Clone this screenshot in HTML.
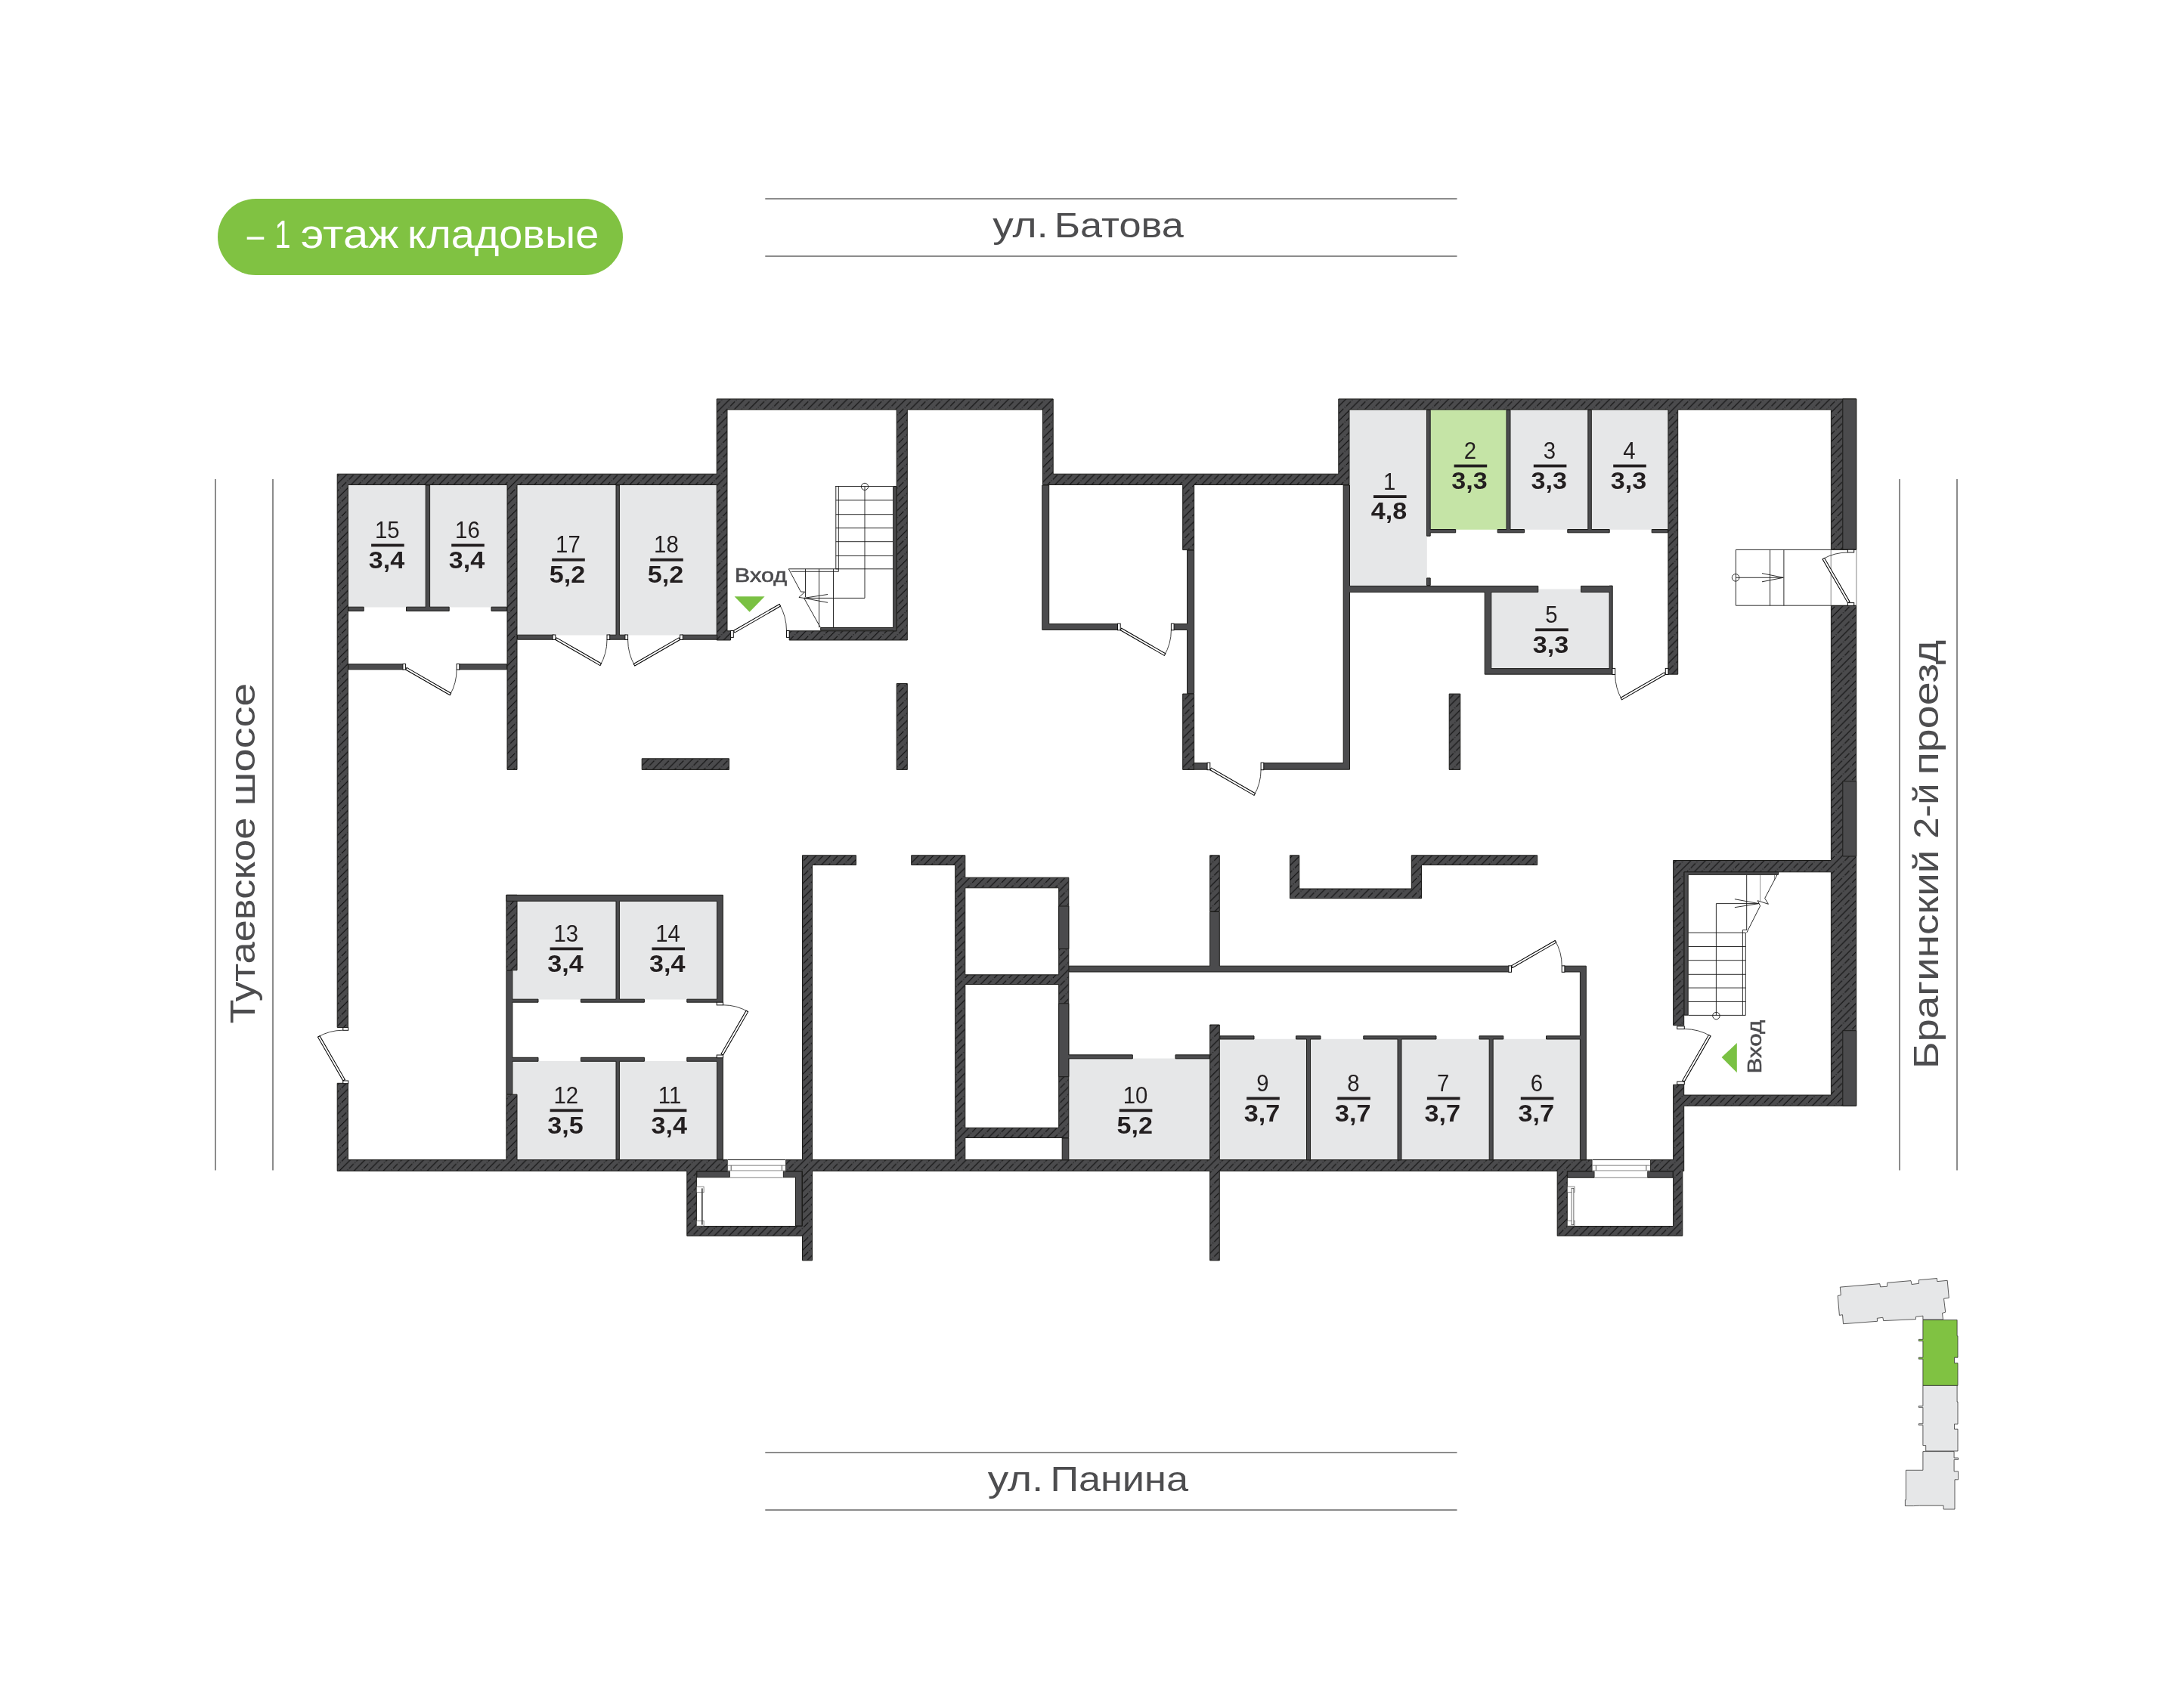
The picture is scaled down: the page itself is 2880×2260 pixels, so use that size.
<!DOCTYPE html>
<html lang="ru"><head><meta charset="utf-8"><title>– 1 этаж кладовые</title>
<style>html,body{margin:0;padding:0;background:#fff}svg{display:block;will-change:transform}</style></head>
<body>
<svg width="2880" height="2260" viewBox="0 0 2880 2260">
<defs>
<pattern id="h" width="19.4" height="19.4" patternUnits="userSpaceOnUse">
<rect width="19.4" height="19.4" fill="#4b4b4d"/>
<path d="M-2 21.4 L21.4 -2 M-2 2 L2 -2 M17.4 21.4 L21.4 17.4" stroke="#0c0c0c" stroke-width="1.05" fill="none"/>
<path d="M-2 11.7 L11.7 -2 M7.699999999999999 21.4 L21.4 7.699999999999999" stroke="#0c0c0c" stroke-width="1.05" stroke-dasharray="6 2 1 2" fill="none"/>
</pattern>
</defs>
<rect x="0.0" y="0.0" width="2880.0" height="2260.0" fill="#fff" />
<rect x="288" y="263" width="536" height="101" rx="50.5" fill="#80c242"/>
<g transform="translate(0,328) rotate(0)" font-family="'Liberation Sans',sans-serif" font-size="51" fill="#fff">
<text x="326.8" y="0" textLength="22.5" lengthAdjust="spacingAndGlyphs">–</text>
<text x="363.5" y="0" textLength="21.0" lengthAdjust="spacingAndGlyphs">1</text>
<text x="397.8" y="0" textLength="129.6" lengthAdjust="spacingAndGlyphs">этаж</text>
<text x="539.1" y="0" textLength="253.1" lengthAdjust="spacingAndGlyphs">кладовые</text>
</g>
<rect x="1012.3" y="262.0" width="915.2" height="2.0" fill="#8c8c8c" />
<rect x="1012.3" y="338.0" width="915.2" height="2.0" fill="#8c8c8c" />
<rect x="1012.3" y="1921.0" width="915.2" height="2.0" fill="#8c8c8c" />
<rect x="1012.3" y="1997.0" width="915.2" height="2.0" fill="#8c8c8c" />
<rect x="284.0" y="634.0" width="2.0" height="914.5" fill="#8c8c8c" />
<rect x="360.0" y="634.0" width="2.0" height="914.5" fill="#8c8c8c" />
<rect x="2512.0" y="634.0" width="2.0" height="914.5" fill="#8c8c8c" />
<rect x="2588.0" y="634.0" width="2.0" height="914.5" fill="#8c8c8c" />
<g transform="translate(0,314.2) rotate(0)" font-family="'Liberation Sans',sans-serif" font-size="47" fill="#4d4d4f">
<text x="1313.2" y="0" textLength="73.7" lengthAdjust="spacingAndGlyphs">ул.</text>
<text x="1394.8" y="0" textLength="171.0" lengthAdjust="spacingAndGlyphs">Батова</text>
</g>
<g transform="translate(0,1973.2) rotate(0)" font-family="'Liberation Sans',sans-serif" font-size="47" fill="#4d4d4f">
<text x="1306.7" y="0" textLength="73.7" lengthAdjust="spacingAndGlyphs">ул.</text>
<text x="1389.4" y="0" textLength="182.6" lengthAdjust="spacingAndGlyphs">Панина</text>
</g>
<g transform="translate(336.5,1352.4) rotate(-90)" font-family="'Liberation Sans',sans-serif" font-size="47" fill="#4d4d4f">
<text x="-2.0" y="0" textLength="272.8" lengthAdjust="spacingAndGlyphs">Тутаевское</text>
<text x="286.0" y="0" textLength="162.8" lengthAdjust="spacingAndGlyphs">шоссе</text>
</g>
<g transform="translate(2564.3,1408.8) rotate(-90)" font-family="'Liberation Sans',sans-serif" font-size="47" fill="#4d4d4f">
<text x="-5.5" y="0" textLength="289.5" lengthAdjust="spacingAndGlyphs">Брагинский</text>
<text x="299.0" y="0" textLength="73.4" lengthAdjust="spacingAndGlyphs">2-й</text>
<text x="383.5" y="0" textLength="178.5" lengthAdjust="spacingAndGlyphs">проезд</text>
</g>
<rect x="460.7" y="641.7" width="102.5" height="161.8" fill="#e6e7e8" />
<rect x="569.0" y="641.7" width="101.7" height="161.8" fill="#e6e7e8" />
<rect x="684.3" y="641.7" width="130.5" height="198.8" fill="#e6e7e8" />
<rect x="819.6" y="641.7" width="128.4" height="198.8" fill="#e6e7e8" />
<rect x="1785.3" y="542.3" width="102.5" height="232.6" fill="#e6e7e8" />
<rect x="1892.4" y="542.3" width="100.4" height="158.5" fill="#c5e4a6" />
<rect x="1998.3" y="542.3" width="102.2" height="158.5" fill="#e6e7e8" />
<rect x="2105.6" y="542.3" width="101.1" height="158.5" fill="#e6e7e8" />
<rect x="1972.6" y="783.0" width="156.2" height="101.4" fill="#e6e7e8" />
<rect x="2035.0" y="779.5" width="56.3" height="3.5" fill="#e6e7e8" />
<rect x="678.1" y="1192.6" width="136.7" height="129.9" fill="#e6e7e8" />
<rect x="819.6" y="1192.6" width="128.6" height="129.9" fill="#e6e7e8" />
<rect x="678.1" y="1404.0" width="136.7" height="130.4" fill="#e6e7e8" />
<rect x="819.6" y="1404.0" width="128.6" height="130.4" fill="#e6e7e8" />
<rect x="1414.0" y="1400.5" width="186.4" height="134.5" fill="#e6e7e8" />
<rect x="1613.6" y="1374.8" width="114.7" height="160.2" fill="#e6e7e8" />
<rect x="1733.8" y="1374.8" width="114.9" height="160.2" fill="#e6e7e8" />
<rect x="1854.2" y="1374.8" width="115.8" height="160.2" fill="#e6e7e8" />
<rect x="1975.5" y="1374.8" width="114.7" height="160.2" fill="#e6e7e8" />
<g fill="none" stroke="#151515" stroke-width="0.9">
<circle cx="1144" cy="643.9" r="4.6"/>
<path d="M1105.1 643.5H1181.4 M1105.8 643.5V752.8 M1109.3 643.5V756.3"/>
<path d="M1105.8 661.9H1181.4"/>
<path d="M1105.8 680.7H1181.4"/>
<path d="M1105.8 698.7H1181.4"/>
<path d="M1105.8 716.7H1181.4"/>
<path d="M1105.8 735.5H1181.4"/>
<path d="M1105.8 752.8H1181.4"/>
<path d="M1144 643.9V791.4H1063.6 M1095 786.5L1063.6 791.4L1095 797.3"/>
<path d="M1043.3 752.8H1109.3 M1046.8 756.3H1109.3 M1065.5 752.8V790 M1083.6 752.8V830.3 M1102.5 752.8V830.3"/>
<path d="M1043.3 752.8L1059.4 783L1064.8 783.2L1056.9 790.4L1063.6 791.4L1085.4 830.3"/>
<path d="M2296.4 727.4H2455.9 M2296.4 801.2H2455.9 M2296.4 727.4V801.2 M2341.6 727.4V801.2 M2359.9 727.4V801.2"/>
<path d="M2422.2 727.4V801.2 M2455.9 727.4V801.2" stroke="#777"/>
<circle cx="2296.1" cy="764.3" r="4.8"/>
<path d="M2296.4 764.3H2359.2 M2331 758.6L2359.2 764.3L2331 769.8"/>
<path d="M2233.4 1234.1H2309.3"/>
<path d="M2233.4 1252.5H2309.3"/>
<path d="M2233.4 1270.7H2309.3"/>
<path d="M2233.4 1289.3H2309.3"/>
<path d="M2233.4 1307.1H2309.3"/>
<path d="M2233.4 1325.5H2309.3"/>
<path d="M2233.4 1343.4H2309.3"/>
<path d="M2305.4 1230.5V1343.4 M2309.3 1234.1V1343.4 M2305.4 1230.5H2310.7"/>
<circle cx="2270.4" cy="1344.1" r="4.7"/>
<path d="M2270.4 1343.4V1195.6H2326.6 M2294.9 1189.7L2326.6 1195.6L2294.9 1200.7"/>
<path d="M2310.7 1157.6V1231"/>
<path d="M2328.6 1157.6V1192 M2347.5 1157.6V1164" stroke="#888"/>
<path d="M2352.8 1154.2L2334.7 1188.6L2339.4 1196.3L2325.2 1191.7L2328.6 1198.7L2310.7 1234.1"/>
</g>
<path d="M948.2 627.2 L446.2 627.2 L446.2 1359.5 L460.4 1359.5 L460.4 641.5 L671.0 641.5 L671.0 1018.4 L684.0 1018.4 L684.0 641.5 L948.2 641.5 L948.2 847.0 L966.5 847.0 L966.5 834.8 L962.0 834.8 L962.0 542.0 L1186.2 542.0 L1186.2 834.8 L1044.2 834.8 L1044.2 847.0 L1200.3 847.0 L1200.3 542.0 L1379.5 542.0 L1379.5 641.5 L1564.7 641.5 L1564.7 727.6 L1579.7 727.6 L1579.7 641.5 L1785.0 641.5 L1785.0 542.0 L2206.9 542.0 L2206.9 892.2 L2219.7 892.2 L2219.7 542.0 L2422.4 542.0 L2422.4 727.1 L2455.7 727.1 L2455.7 527.9 L1770.8 527.9 L1770.8 627.2 L1393.2 627.2 L1393.2 527.9 L948.2 527.9Z M1061.5 1534.7 L1039.5 1534.7 L1039.5 1549.5 L1061.5 1549.5 L1061.5 1622.5 L921.4 1622.5 L921.4 1549.5 L962.5 1549.5 L962.5 1534.7 L684.0 1534.7 L684.0 1448.2 L669.9 1448.2 L669.9 1534.7 L460.4 1534.7 L460.4 1433.3 L446.2 1433.3 L446.2 1549.5 L908.8 1549.5 L908.8 1635.3 L1061.5 1635.3 L1061.5 1667.8 L1074.5 1667.8 L1074.5 1549.5 L1600.7 1549.5 L1600.7 1667.8 L1613.3 1667.8 L1613.3 1549.5 L2060.2 1549.5 L2060.2 1635.2 L2225.8 1635.2 L2225.8 1549.5 L2227.7 1549.5 L2227.7 1463.2 L2455.7 1463.2 L2455.7 801.5 L2422.4 801.5 L2422.4 1138.5 L2213.6 1138.5 L2213.6 1356.7 L2227.7 1356.7 L2227.7 1153.8 L2422.4 1153.8 L2422.4 1449.0 L2227.7 1449.0 L2227.7 1435.3 L2213.6 1435.3 L2213.6 1534.7 L2183.2 1534.7 L2183.2 1549.5 L2213.6 1549.5 L2213.6 1622.5 L2073.3 1622.5 L2073.3 1549.5 L2106.3 1549.5 L2106.3 1534.7 L1613.3 1534.7 L1613.3 1356.0 L1600.7 1356.0 L1600.7 1534.7 L1276.8 1534.7 L1276.8 1505.5 L1413.8 1505.5 L1413.8 1161.2 L1276.8 1161.2 L1276.8 1131.8 L1205.7 1131.8 L1205.7 1144.5 L1263.7 1144.5 L1263.7 1534.7 L1074.5 1534.7 L1074.5 1144.5 L1132.5 1144.5 L1132.5 1131.8 L1061.5 1131.8Z M1276.8 1174.8 L1400.7 1174.8 L1400.7 1289.8 L1276.8 1289.8Z M1276.8 1492.3 L1276.8 1302.5 L1400.7 1302.5 L1400.7 1492.3Z M1880.5 1188.7 L1880.5 1144.5 L2033.7 1144.5 L2033.7 1131.8 L1867.3 1131.8 L1867.3 1176.0 L1718.8 1176.0 L1718.8 1131.8 L1706.5 1131.8 L1706.5 1188.7Z M1917.2 1018.4 L1931.8 1018.4 L1931.8 918.1 L1917.2 918.1Z M1600.7 1206.0 L1613.3 1206.0 L1613.3 1131.8 L1600.7 1131.8Z M1564.7 1018.4 L1579.7 1018.4 L1579.7 918.1 L1564.7 918.1Z M1186.2 904.5 L1186.2 1018.4 L1200.3 1018.4 L1200.3 904.5Z M849.2 1018.4 L964.5 1018.4 L964.5 1003.8 L849.2 1003.8Z M669.9 1283.8 L684.0 1283.8 L684.0 1184.3 L669.9 1184.3Z" fill="url(#h)" fill-rule="evenodd" stroke="#1c1c1a" stroke-width="1"/>
<path d="M2455.7 1133.0 L2455.7 1033.7 L2437.8 1033.7 L2437.8 1133.0Z M2437.8 1463.2 L2455.7 1463.2 L2455.7 1363.7 L2437.8 1363.7Z M2437.8 727.1 L2455.7 727.1 L2455.7 527.9 L2437.8 527.9Z M2228.2 1343.2 L2233.2 1343.2 L2233.2 1157.3 L2352.6 1157.3 L2352.6 1153.8 L2228.2 1153.8Z M2213.1 1558.2 L2213.1 1550.0 L2179.4 1550.0 L2179.4 1558.2Z M2206.4 704.8 L2206.4 700.5 L2185.2 700.5 L2185.2 704.8Z M1785.5 1018.2 L1785.5 783.5 L1964.2 783.5 L1964.2 892.2 L2133.2 892.2 L2133.2 775.1 L2129.1 775.1 L2129.1 775.4 L2091.6 775.4 L2091.6 783.5 L2129.1 783.5 L2129.1 884.6 L1972.8 884.6 L1972.8 783.5 L2034.8 783.5 L2034.8 775.4 L1785.5 775.4 L1785.5 642.0 L1777.2 642.0 L1777.2 1009.6 L1669.8 1009.6 L1669.8 1018.2Z M2100.8 700.5 L2073.8 700.5 L2073.8 704.8 L2129.2 704.8 L2129.2 700.5 L2105.3 700.5 L2105.3 542.5 L2100.8 542.5Z M2109.3 1558.2 L2109.3 1550.0 L2073.6 1550.0 L2073.6 1558.2Z M2045.5 1375.0 L2090.4 1375.0 L2090.4 1534.8 L2098.3 1534.8 L2098.3 1278.2 L2068.3 1278.2 L2068.3 1286.0 L2090.4 1286.0 L2090.4 1370.8 L2045.5 1370.8Z M1993.0 700.5 L1981.2 700.5 L1981.2 704.8 L2016.5 704.8 L2016.5 700.5 L1998.0 700.5 L1998.0 542.5 L1993.0 542.5Z M1997.3 1286.0 L1997.3 1278.2 L1613.3 1278.2 L1613.3 1206.5 L1600.7 1206.5 L1600.7 1278.2 L1414.2 1278.2 L1414.2 1286.0Z M1975.2 1375.0 L1988.8 1375.0 L1988.8 1370.8 L1957.0 1370.8 L1957.0 1375.0 L1970.2 1375.0 L1970.2 1534.8 L1975.2 1534.8Z M1892.2 709.2 L1892.2 704.8 L1925.7 704.8 L1925.7 700.5 L1892.2 700.5 L1892.2 542.5 L1887.5 542.5 L1887.5 709.2Z M1803.8 1370.8 L1803.8 1375.0 L1849.0 1375.0 L1849.0 1534.8 L1854.0 1534.8 L1854.0 1375.0 L1900.0 1375.0 L1900.0 1370.8Z M1887.5 774.6 L1892.2 774.6 L1892.2 764.9 L1887.5 764.9Z M1714.5 1370.8 L1714.5 1375.0 L1728.5 1375.0 L1728.5 1534.8 L1733.5 1534.8 L1733.5 1375.0 L1747.0 1375.0 L1747.0 1370.8Z M1613.8 1375.0 L1659.0 1375.0 L1659.0 1370.8 L1613.8 1370.8Z M1600.2 1400.8 L1600.2 1395.8 L1555.0 1395.8 L1555.0 1400.8Z M1598.3 1018.2 L1598.3 1009.6 L1579.3 1009.6 L1579.3 1018.2Z M1570.5 825.6 L1551.0 825.6 L1551.0 833.4 L1570.5 833.4 L1570.5 917.6 L1579.7 917.6 L1579.7 728.1 L1570.5 728.1Z M1498.3 1400.8 L1498.3 1395.8 L1413.8 1395.8 L1413.8 1327.8 L1400.7 1327.8 L1400.7 1424.7 L1413.8 1424.7 L1413.8 1400.8Z M1378.8 833.4 L1478.8 833.4 L1478.8 825.6 L1387.7 825.6 L1387.7 642.0 L1378.8 642.0Z M1405.2 1534.8 L1413.8 1534.8 L1413.8 1506.0 L1405.2 1506.0Z M1400.7 1255.5 L1413.8 1255.5 L1413.8 1199.0 L1400.7 1199.0Z M1185.8 643.5 L1181.7 643.5 L1181.7 830.5 L1085.7 830.5 L1085.7 834.2 L1181.7 834.2 L1181.7 834.8 L1185.8 834.8Z M1036.0 1557.8 L1052.5 1557.8 L1052.5 1622.0 L1061.0 1622.0 L1061.0 1550.0 L1036.0 1550.0Z M921.9 1557.8 L965.6 1557.8 L965.6 1550.0 L921.9 1550.0Z M956.4 1397.5 L948.5 1397.5 L948.5 1399.3 L908.8 1399.3 L908.8 1404.3 L948.5 1404.3 L948.5 1534.2 L956.4 1534.2Z M815.0 1322.2 L768.4 1322.2 L768.4 1326.2 L852.4 1326.2 L852.4 1322.2 L819.4 1322.2 L819.4 1192.3 L948.5 1192.3 L948.5 1322.2 L908.8 1322.2 L908.8 1326.2 L948.5 1326.2 L948.5 1327.2 L956.4 1327.2 L956.4 1184.3 L669.9 1184.3 L669.9 1192.3 L815.0 1192.3Z M901.8 846.2 L948.8 846.2 L948.8 840.2 L901.8 840.2Z M819.4 1404.3 L852.4 1404.3 L852.4 1399.3 L768.4 1399.3 L768.4 1404.3 L815.0 1404.3 L815.0 1534.2 L819.4 1534.2Z M819.4 840.2 L819.4 642.0 L815.0 642.0 L815.0 840.2 L805.1 840.2 L805.1 846.2 L828.5 846.2 L828.5 840.2Z M684.5 846.2 L732.8 846.2 L732.8 840.2 L684.5 840.2Z M669.9 1447.8 L677.9 1447.8 L677.9 1404.3 L712.0 1404.3 L712.0 1399.3 L677.9 1399.3 L677.9 1326.2 L712.0 1326.2 L712.0 1322.2 L677.9 1322.2 L677.9 1284.3 L669.9 1284.3Z M650.0 808.5 L670.5 808.5 L670.5 803.2 L650.0 803.2Z M606.6 885.8 L670.5 885.8 L670.5 878.8 L606.6 878.8Z M594.2 808.5 L594.2 803.2 L568.6 803.2 L568.6 642.0 L563.2 642.0 L563.2 803.2 L537.5 803.2 L537.5 808.5Z M460.9 885.8 L534.5 885.8 L534.5 878.8 L460.9 878.8Z M460.9 808.5 L481.2 808.5 L481.2 803.2 L460.9 803.2Z" fill="#4b4b4d" fill-rule="evenodd" stroke="#1c1c1a" stroke-width="1"/>
<rect x="962.7" y="1534.3" width="76.5" height="15.0" fill="#fff" />
<path d="M962.7 1534.6H1039.2" stroke="#2a2a2a" stroke-width="1"/>
<path d="M962.7 1542.1H1039.2" stroke="#6a6a6a" stroke-width="0.9"/>
<path d="M967.2 1542.1V1548.8999999999999 M1034.4 1542.1V1548.8999999999999" stroke="#444" stroke-width="0.9"/>
<path d="M962.7 1549.0H1039.2" stroke="#6a6a6a" stroke-width="0.9"/>
<rect x="965.9" y="1549.7" width="69.8" height="8.6" fill="#fff" />
<path d="M965.9 1558.3H1035.7" stroke="#777" stroke-width="0.9"/>
<rect x="2106.6" y="1534.3" width="76.4" height="15.0" fill="#fff" />
<path d="M2106.6 1534.6H2183" stroke="#2a2a2a" stroke-width="1"/>
<path d="M2106.6 1542.1H2183" stroke="#6a6a6a" stroke-width="0.9"/>
<path d="M2111.4 1542.1V1548.8999999999999 M2177.9 1542.1V1548.8999999999999" stroke="#444" stroke-width="0.9"/>
<path d="M2106.6 1549.0H2183" stroke="#6a6a6a" stroke-width="0.9"/>
<rect x="2109.6" y="1549.7" width="69.6" height="8.6" fill="#fff" />
<path d="M2109.6 1558.3H2179.2" stroke="#777" stroke-width="0.9"/>
<rect x="921.6" y="1570.2" width="9.5" height="7.5" fill="#fff" stroke="#555" stroke-width="0.7"/>
<rect x="921.6" y="1615.4" width="9.5" height="6.8" fill="#fff" stroke="#555" stroke-width="0.7"/>
<rect x="928.0" y="1572.4" width="1.7" height="48.2" fill="#444" />
<rect x="2073.5" y="1570.1" width="9.5" height="7.5" fill="#fff" stroke="#555" stroke-width="0.7"/>
<rect x="2073.5" y="1615.3" width="9.5" height="6.8" fill="#fff" stroke="#555" stroke-width="0.7"/>
<rect x="2079.1" y="1572.3" width="2.8" height="48.4" fill="#fff" stroke="#333" stroke-width="0.7"/>
<path d="M604.1 886.0A67.6 67.6 0 0 1 595.1 919.8" fill="none" stroke="#111" stroke-width="0.8"/>
<rect x="0" y="-3.0" width="67.6" height="3" fill="#fff" stroke="#000" stroke-width="1" transform="translate(536.6,886.0) rotate(30.00)"/>
<rect x="532.9" y="878.5" width="3.7" height="7.5" fill="#fff" stroke="#111" stroke-width="1"/>
<rect x="604.1" y="878.5" width="3.7" height="7.5" fill="#fff" stroke="#111" stroke-width="1"/>
<path d="M803.0 846.5A68.2 68.2 0 0 1 793.9 880.6" fill="none" stroke="#111" stroke-width="0.8"/>
<rect x="0" y="-3.0" width="68.2" height="3" fill="#fff" stroke="#000" stroke-width="1" transform="translate(734.9,846.5) rotate(30.00)"/>
<rect x="731.1" y="840.0" width="3.7" height="6.5" fill="#fff" stroke="#111" stroke-width="1"/>
<rect x="803.0" y="840.0" width="3.7" height="6.5" fill="#fff" stroke="#111" stroke-width="1"/>
<path d="M830.6 846.5A69.1 69.1 0 0 0 839.8 881.0" fill="none" stroke="#111" stroke-width="0.8"/>
<rect x="0" y="0" width="69.1" height="3" fill="#fff" stroke="#000" stroke-width="1" transform="translate(899.6,846.5) rotate(150.00)"/>
<rect x="899.6" y="840.0" width="3.7" height="6.5" fill="#fff" stroke="#111" stroke-width="1"/>
<rect x="826.9" y="840.0" width="3.7" height="6.5" fill="#fff" stroke="#111" stroke-width="1"/>
<path d="M1040.5 834.5A70.1 70.1 0 0 0 1031.1 799.5" fill="none" stroke="#111" stroke-width="0.8"/>
<rect x="0" y="0" width="70.1" height="3" fill="#fff" stroke="#000" stroke-width="1" transform="translate(970.4,834.5) rotate(-30.00)"/>
<rect x="966.6" y="834.5" width="3.7" height="8.9" fill="#fff" stroke="#111" stroke-width="1"/>
<rect x="1040.5" y="834.5" width="3.7" height="8.9" fill="#fff" stroke="#111" stroke-width="1"/>
<path d="M1549.4 833.8A67.2 67.2 0 0 1 1540.3 867.4" fill="none" stroke="#111" stroke-width="0.8"/>
<rect x="0" y="-3.0" width="67.2" height="3" fill="#fff" stroke="#000" stroke-width="1" transform="translate(1482.1,833.8) rotate(30.00)"/>
<rect x="1478.5" y="825.2" width="3.7" height="8.6" fill="#fff" stroke="#111" stroke-width="1"/>
<rect x="1549.4" y="825.2" width="3.7" height="8.6" fill="#fff" stroke="#111" stroke-width="1"/>
<path d="M1668.1 1018.7A67.3 67.3 0 0 1 1659.0 1052.4" fill="none" stroke="#111" stroke-width="0.8"/>
<rect x="0" y="-3.0" width="67.3" height="3" fill="#fff" stroke="#000" stroke-width="1" transform="translate(1600.8,1018.7) rotate(30.00)"/>
<rect x="1597.1" y="1009.2" width="3.7" height="9.5" fill="#fff" stroke="#111" stroke-width="1"/>
<rect x="1668.1" y="1009.2" width="3.7" height="9.5" fill="#fff" stroke="#111" stroke-width="1"/>
<path d="M2136.7 892.5A66.7 66.7 0 0 0 2145.6 925.8" fill="none" stroke="#111" stroke-width="0.8"/>
<rect x="0" y="0" width="66.7" height="3" fill="#fff" stroke="#000" stroke-width="1" transform="translate(2203.3,892.5) rotate(150.00)"/>
<rect x="2203.3" y="884.4" width="3.7" height="8.1" fill="#fff" stroke="#111" stroke-width="1"/>
<rect x="2133.0" y="884.4" width="3.7" height="8.1" fill="#fff" stroke="#111" stroke-width="1"/>
<path d="M2444.4 731.0A66.7 66.7 0 0 0 2411.1 739.9" fill="none" stroke="#111" stroke-width="0.8"/>
<rect x="0" y="0" width="66.7" height="3" fill="#fff" stroke="#000" stroke-width="1" transform="translate(2444.4,797.6) rotate(-120.00)"/>
<rect x="2444.4" y="797.6" width="8.3" height="3.7" fill="#fff" stroke="#111" stroke-width="1"/>
<rect x="2444.4" y="727.2" width="8.3" height="3.7" fill="#fff" stroke="#111" stroke-width="1"/>
<path d="M453.8 1363.2A66.7 66.7 0 0 0 420.4 1372.2" fill="none" stroke="#111" stroke-width="0.8"/>
<rect x="0" y="0" width="66.7" height="3" fill="#fff" stroke="#000" stroke-width="1" transform="translate(453.8,1430.0) rotate(-120.00)"/>
<rect x="453.8" y="1430.0" width="6.9" height="3.7" fill="#fff" stroke="#111" stroke-width="1"/>
<rect x="453.8" y="1359.6" width="6.9" height="3.7" fill="#fff" stroke="#111" stroke-width="1"/>
<path d="M956.6 1329.8A66.1 66.1 0 0 1 989.7 1338.7" fill="none" stroke="#111" stroke-width="0.8"/>
<rect x="0" y="-3.0" width="66.1" height="3" fill="#fff" stroke="#000" stroke-width="1" transform="translate(956.6,1396.0) rotate(-60.00)"/>
<rect x="948.2" y="1396.0" width="8.4" height="3.7" fill="#fff" stroke="#111" stroke-width="1"/>
<rect x="948.2" y="1326.2" width="8.4" height="3.7" fill="#fff" stroke="#111" stroke-width="1"/>
<path d="M2066.2 1277.9A66.8 66.8 0 0 0 2057.3 1244.5" fill="none" stroke="#111" stroke-width="0.8"/>
<rect x="0" y="0" width="66.8" height="3" fill="#fff" stroke="#000" stroke-width="1" transform="translate(1999.4,1277.9) rotate(-30.00)"/>
<rect x="1995.8" y="1277.9" width="3.7" height="8.4" fill="#fff" stroke="#111" stroke-width="1"/>
<rect x="2066.2" y="1277.9" width="3.7" height="8.4" fill="#fff" stroke="#111" stroke-width="1"/>
<path d="M2228.3 1361.5A69.6 69.6 0 0 1 2263.1 1370.9" fill="none" stroke="#111" stroke-width="0.8"/>
<rect x="0" y="-3.0" width="69.6" height="3" fill="#fff" stroke="#000" stroke-width="1" transform="translate(2228.3,1431.2) rotate(-60.00)"/>
<rect x="2218.7" y="1431.2" width="9.6" height="3.7" fill="#fff" stroke="#111" stroke-width="1"/>
<rect x="2218.7" y="1357.9" width="9.6" height="3.7" fill="#fff" stroke="#111" stroke-width="1"/>
<polygon points="971.6,789.3 1011.6,789.3 991.6,809.7" fill="#7ac143"/>
<polygon points="2277.6,1399.1 2297.8,1380 2297.8,1419.3" fill="#7ac143"/>
<text x="971.8" y="769.7" font-family="'Liberation Sans',sans-serif" font-size="26.3" fill="#4b4b4e" stroke="#4b4b4e" stroke-width="0.55" textLength="69.5" lengthAdjust="spacingAndGlyphs">Вход</text>
<text transform="translate(2330.4,1420.4) rotate(-90)" font-family="'Liberation Sans',sans-serif" font-size="26.3" fill="#4b4b4e" stroke="#4b4b4e" stroke-width="0.55" textLength="70.7" lengthAdjust="spacingAndGlyphs">Вход</text>
<rect x="491.1" y="719.6" width="43.6" height="3.8" fill="#231f20" />
<text transform="translate(512.3,711.9) scale(.93,1)" text-anchor="middle" font-family="'Liberation Sans',sans-serif" font-size="31.6" fill="#231f20">15</text>
<text x="511.5" y="751.8" text-anchor="middle" font-family="'Liberation Sans',sans-serif" font-size="31.6" font-weight="bold" fill="#231f20" textLength="47.5" lengthAdjust="spacingAndGlyphs">3,4</text>
<rect x="597.2" y="719.6" width="43.6" height="3.8" fill="#231f20" />
<text transform="translate(618.4,711.9) scale(.93,1)" text-anchor="middle" font-family="'Liberation Sans',sans-serif" font-size="31.6" fill="#231f20">16</text>
<text x="617.6" y="751.8" text-anchor="middle" font-family="'Liberation Sans',sans-serif" font-size="31.6" font-weight="bold" fill="#231f20" textLength="47.5" lengthAdjust="spacingAndGlyphs">3,4</text>
<rect x="730.2" y="738.8" width="43.6" height="3.8" fill="#231f20" />
<text transform="translate(751.4,731.1) scale(.93,1)" text-anchor="middle" font-family="'Liberation Sans',sans-serif" font-size="31.6" fill="#231f20">17</text>
<text x="750.6" y="771.0" text-anchor="middle" font-family="'Liberation Sans',sans-serif" font-size="31.6" font-weight="bold" fill="#231f20" textLength="47.5" lengthAdjust="spacingAndGlyphs">5,2</text>
<rect x="860.2" y="738.8" width="43.6" height="3.8" fill="#231f20" />
<text transform="translate(881.4,731.1) scale(.93,1)" text-anchor="middle" font-family="'Liberation Sans',sans-serif" font-size="31.6" fill="#231f20">18</text>
<text x="880.6" y="771.0" text-anchor="middle" font-family="'Liberation Sans',sans-serif" font-size="31.6" font-weight="bold" fill="#231f20" textLength="47.5" lengthAdjust="spacingAndGlyphs">5,2</text>
<rect x="1817.0" y="655.2" width="43.6" height="3.8" fill="#231f20" />
<text transform="translate(1838.2,647.5) scale(.93,1)" text-anchor="middle" font-family="'Liberation Sans',sans-serif" font-size="31.6" fill="#231f20">1</text>
<text x="1837.4" y="687.4" text-anchor="middle" font-family="'Liberation Sans',sans-serif" font-size="31.6" font-weight="bold" fill="#231f20" textLength="47.5" lengthAdjust="spacingAndGlyphs">4,8</text>
<rect x="1923.6" y="614.6" width="43.6" height="3.8" fill="#231f20" />
<text transform="translate(1944.8,606.9) scale(.93,1)" text-anchor="middle" font-family="'Liberation Sans',sans-serif" font-size="31.6" fill="#231f20">2</text>
<text x="1944.0" y="646.8" text-anchor="middle" font-family="'Liberation Sans',sans-serif" font-size="31.6" font-weight="bold" fill="#231f20" textLength="47.5" lengthAdjust="spacingAndGlyphs">3,3</text>
<rect x="2028.8" y="614.6" width="43.6" height="3.8" fill="#231f20" />
<text transform="translate(2050.0,606.9) scale(.93,1)" text-anchor="middle" font-family="'Liberation Sans',sans-serif" font-size="31.6" fill="#231f20">3</text>
<text x="2049.2" y="646.8" text-anchor="middle" font-family="'Liberation Sans',sans-serif" font-size="31.6" font-weight="bold" fill="#231f20" textLength="47.5" lengthAdjust="spacingAndGlyphs">3,3</text>
<rect x="2134.2" y="614.6" width="43.6" height="3.8" fill="#231f20" />
<text transform="translate(2155.4,606.9) scale(.93,1)" text-anchor="middle" font-family="'Liberation Sans',sans-serif" font-size="31.6" fill="#231f20">4</text>
<text x="2154.6" y="646.8" text-anchor="middle" font-family="'Liberation Sans',sans-serif" font-size="31.6" font-weight="bold" fill="#231f20" textLength="47.5" lengthAdjust="spacingAndGlyphs">3,3</text>
<rect x="2031.2" y="831.4" width="43.6" height="3.8" fill="#231f20" />
<text transform="translate(2052.4,823.7) scale(.93,1)" text-anchor="middle" font-family="'Liberation Sans',sans-serif" font-size="31.6" fill="#231f20">5</text>
<text x="2051.6" y="863.6" text-anchor="middle" font-family="'Liberation Sans',sans-serif" font-size="31.6" font-weight="bold" fill="#231f20" textLength="47.5" lengthAdjust="spacingAndGlyphs">3,3</text>
<rect x="727.6" y="1253.5" width="43.6" height="3.8" fill="#231f20" />
<text transform="translate(748.8,1245.8) scale(.93,1)" text-anchor="middle" font-family="'Liberation Sans',sans-serif" font-size="31.6" fill="#231f20">13</text>
<text x="748.0" y="1285.7" text-anchor="middle" font-family="'Liberation Sans',sans-serif" font-size="31.6" font-weight="bold" fill="#231f20" textLength="47.5" lengthAdjust="spacingAndGlyphs">3,4</text>
<rect x="862.4" y="1253.5" width="43.6" height="3.8" fill="#231f20" />
<text transform="translate(883.6,1245.8) scale(.93,1)" text-anchor="middle" font-family="'Liberation Sans',sans-serif" font-size="31.6" fill="#231f20">14</text>
<text x="882.8" y="1285.7" text-anchor="middle" font-family="'Liberation Sans',sans-serif" font-size="31.6" font-weight="bold" fill="#231f20" textLength="47.5" lengthAdjust="spacingAndGlyphs">3,4</text>
<rect x="727.6" y="1467.4" width="43.6" height="3.8" fill="#231f20" />
<text transform="translate(748.8,1459.7) scale(.93,1)" text-anchor="middle" font-family="'Liberation Sans',sans-serif" font-size="31.6" fill="#231f20">12</text>
<text x="748.0" y="1499.6" text-anchor="middle" font-family="'Liberation Sans',sans-serif" font-size="31.6" font-weight="bold" fill="#231f20" textLength="47.5" lengthAdjust="spacingAndGlyphs">3,5</text>
<rect x="864.8" y="1467.4" width="43.6" height="3.8" fill="#231f20" />
<text transform="translate(886.0,1459.7) scale(.93,1)" text-anchor="middle" font-family="'Liberation Sans',sans-serif" font-size="31.6" fill="#231f20">11</text>
<text x="885.2" y="1499.6" text-anchor="middle" font-family="'Liberation Sans',sans-serif" font-size="31.6" font-weight="bold" fill="#231f20" textLength="47.5" lengthAdjust="spacingAndGlyphs">3,4</text>
<rect x="1480.8" y="1467.4" width="43.6" height="3.8" fill="#231f20" />
<text transform="translate(1502.0,1459.7) scale(.93,1)" text-anchor="middle" font-family="'Liberation Sans',sans-serif" font-size="31.6" fill="#231f20">10</text>
<text x="1501.2" y="1499.6" text-anchor="middle" font-family="'Liberation Sans',sans-serif" font-size="31.6" font-weight="bold" fill="#231f20" textLength="47.5" lengthAdjust="spacingAndGlyphs">5,2</text>
<rect x="1649.2" y="1451.5" width="43.6" height="3.8" fill="#231f20" />
<text transform="translate(1670.4,1443.8) scale(.93,1)" text-anchor="middle" font-family="'Liberation Sans',sans-serif" font-size="31.6" fill="#231f20">9</text>
<text x="1669.6" y="1483.7" text-anchor="middle" font-family="'Liberation Sans',sans-serif" font-size="31.6" font-weight="bold" fill="#231f20" textLength="47.5" lengthAdjust="spacingAndGlyphs">3,7</text>
<rect x="1769.3" y="1451.5" width="43.6" height="3.8" fill="#231f20" />
<text transform="translate(1790.5,1443.8) scale(.93,1)" text-anchor="middle" font-family="'Liberation Sans',sans-serif" font-size="31.6" fill="#231f20">8</text>
<text x="1789.7" y="1483.7" text-anchor="middle" font-family="'Liberation Sans',sans-serif" font-size="31.6" font-weight="bold" fill="#231f20" textLength="47.5" lengthAdjust="spacingAndGlyphs">3,7</text>
<rect x="1887.9" y="1451.5" width="43.6" height="3.8" fill="#231f20" />
<text transform="translate(1909.1,1443.8) scale(.93,1)" text-anchor="middle" font-family="'Liberation Sans',sans-serif" font-size="31.6" fill="#231f20">7</text>
<text x="1908.3" y="1483.7" text-anchor="middle" font-family="'Liberation Sans',sans-serif" font-size="31.6" font-weight="bold" fill="#231f20" textLength="47.5" lengthAdjust="spacingAndGlyphs">3,7</text>
<rect x="2011.8" y="1451.5" width="43.6" height="3.8" fill="#231f20" />
<text transform="translate(2033.0,1443.8) scale(.93,1)" text-anchor="middle" font-family="'Liberation Sans',sans-serif" font-size="31.6" fill="#231f20">6</text>
<text x="2032.2" y="1483.7" text-anchor="middle" font-family="'Liberation Sans',sans-serif" font-size="31.6" font-weight="bold" fill="#231f20" textLength="47.5" lengthAdjust="spacingAndGlyphs">3,7</text>
<polygon points="2434.3,1703.1 2486.8,1698.6 2487.6,1702.8 2496.4,1702.3 2496.7,1697.3 2528,1694.6 2529,1699.5 2538.5,1698.3 2538.3,1693.7 2562.4,1691.5 2562.8,1695.6 2576.2,1694.3 2578.3,1717.3 2571.5,1718.3 2573.7,1736.2 2569.5,1737.5 2570.5,1746 2543.9,1746 2543.9,1741.2 2534.5,1742.3 2534.5,1745.6 2491.7,1747.6 2490.8,1743.3 2483.3,1744.3 2483.6,1748.3 2438.5,1751.7 2437.5,1739.7 2433.4,1740.4 2431.2,1714.5 2435.3,1713.7" fill="#e6e7e8" stroke="#333" stroke-width="0.8"/>
<polygon points="2543.9,1746.5 2589.1,1746.5 2589.1,1767.8 2590,1767.8 2590,1796.2 2585.5,1796.2 2585.5,1803.6 2590,1803.6 2590,1833.4 2543.9,1833.4 2543.9,1798.2 2538.3,1798.2 2538.3,1796.2 2543.9,1796.2 2543.9,1774.3 2538.3,1774.3 2538.3,1772.3 2543.9,1772.3" fill="#80c242" stroke="#333" stroke-width="0.8"/>
<polygon points="2543.9,1833.4 2589.1,1833.4 2589.1,1855 2590,1855 2590,1884.2 2585.5,1884.2 2585.5,1891.1 2590,1891.1 2590,1920 2547.7,1920 2547.7,1912.6 2543.9,1912.6 2543.9,1885.8 2538.3,1885.8 2538.3,1883.8 2543.9,1883.8 2543.9,1862.3 2538.3,1862.3 2538.3,1860.3 2543.9,1860.3" fill="#e6e7e8" stroke="#333" stroke-width="0.8"/>
<polygon points="2543.9,1920.6 2585.1,1920.6 2585.1,1929 2590.6,1929 2590.6,1931.4 2585.1,1931.4 2585.1,1946.9 2590.6,1946.9 2590.6,1957.8 2586,1957.8 2586,1997 2571.1,1997 2571.1,1992.2 2539.3,1992.2 2531.3,1992.6 2520.4,1992.6 2520.4,1984.7 2521.4,1984.7 2521.4,1945.3 2543.9,1945.3" fill="#e6e7e8" stroke="#333" stroke-width="0.8"/>
</svg>
</body></html>
